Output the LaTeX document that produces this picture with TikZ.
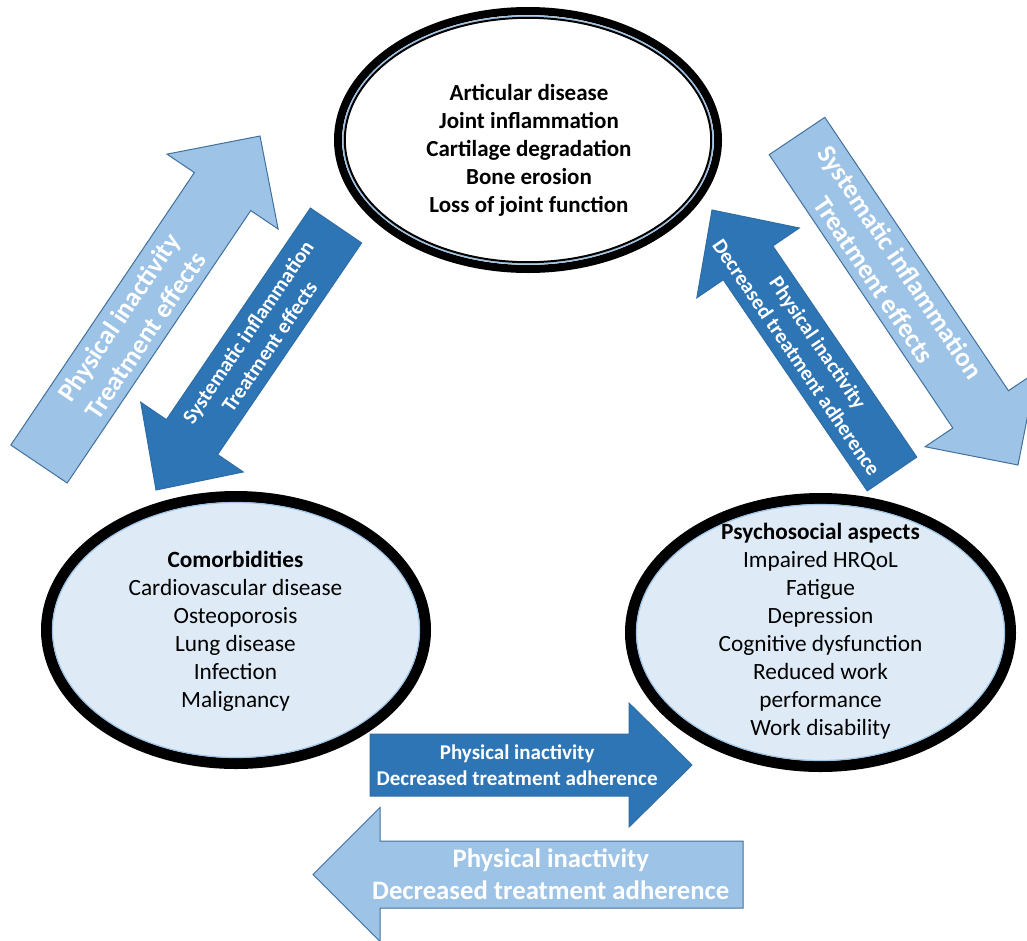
\documentclass[tikz,border=0pt]{standalone}
\usepackage{fontspec}
\setmainfont{Carlito}
\usetikzlibrary{calc,shapes.geometric}

\definecolor{lightarrow}{HTML}{9DC3E6}
\definecolor{lightedge}{HTML}{41719C}
\definecolor{darkarrow}{HTML}{2E75B6}
\definecolor{darkedge}{HTML}{2E6DA4}
\definecolor{ellfill}{HTML}{DEEBF7}
\definecolor{ringblue}{HTML}{9DC3E6}

% block arrow: #1 style, #2 tail coordinate, #3 tip coordinate,
% #4 shaft half width, #5 head half width, #6 head length
\newcommand\blockarrow[6]{%
  \coordinate (#2mid) at ($(#3)!#6!(#2)$);
  \draw[#1] ($(#2)!#4!90:(#3)$) -- ($(#2mid)!#4!90:(#3)$)
    -- ($(#2mid)!#5!90:(#3)$) -- (#3)
    -- ($(#2mid)!#5!-90:(#3)$) -- ($(#2mid)!#4!-90:(#3)$)
    -- ($(#2)!#4!-90:(#3)$) -- cycle;
}

\tikzset{
  lightshape/.style={fill=lightarrow, draw=lightedge, line width=1pt, line join=miter},
  darkshape/.style={fill=darkarrow, draw=darkedge, line width=1pt, line join=miter},
  lighttext/.style={text=white, align=center, inner sep=0pt,
    font=\fontsize{26.7}{32}\selectfont\bfseries},
  darktext/.style={text=white, align=center, inner sep=0pt,
    font=\fontsize{21}{26}\selectfont\bfseries},
  ringnode/.style={ellipse, draw=black, inner sep=0pt},
  elltext/.style={align=center, inner sep=0pt, text=black,
    font=\fontsize{23.3}{28}\selectfont},
}

\begin{document}
\begin{tikzpicture}[x=1pt, y=-1pt]
\useasboundingbox (0,0) rectangle (1027,940);
\clip (0,0) rectangle (1027,940);

% ---- top ellipse: articular disease (double ring)
\node[ringnode, line width=8pt, fill=white, minimum width=380pt, minimum height=258pt]
  (art) at (528,140) {};
\draw[ringblue, line width=1.5pt] (art.center) ellipse [x radius=185, y radius=124];
\draw[black, line width=2pt] (art.center) ellipse [x radius=183.2, y radius=122.2];
\node[elltext, font=\fontsize{23}{28}\selectfont\bfseries] (arttext) at (529,150)
  {Articular disease\\Joint inflammation\\Cartilage degradation\\Bone erosion\\Loss of joint function};

% ---- left ellipse: comorbidities
\node[ringnode, line width=11pt, fill=ellfill, minimum width=379pt, minimum height=267pt]
  (como) at (236,630) {};
\draw[ringblue, line width=1.2pt] (como.center) ellipse [x radius=183.5, y radius=127.5];
\node[elltext] (comotext) at (235.5,631)
  {\textbf{Comorbidities}\\Cardiovascular disease\\Osteoporosis\\Lung disease\\Infection\\Malignancy};

% ---- right ellipse: psychosocial aspects
\node[ringnode, line width=11pt, fill=ellfill, minimum width=380pt, minimum height=268pt]
  (psy) at (820.5,632.5) {};
\draw[ringblue, line width=1.2pt] (psy.center) ellipse [x radius=184, y radius=128];
\node[elltext] (psytext) at (820.5,631)
  {\textbf{Psychosocial aspects}\\Impaired HRQoL\\Fatigue\\Depression\\Cognitive dysfunction\\Reduced work\\performance\\Work disability};

% ---- arrow end points
\coordinate (aT) at (39,464);    \coordinate (aP) at (260,136);
\coordinate (bT) at (336,225.5); \coordinate (bP) at (156,490);
\coordinate (cT) at (797,136);   \coordinate (cP) at (1018,465);
\coordinate (dT) at (892,474);   \coordinate (dP) at (712,210);
\coordinate (eT) at (370,765);   \coordinate (eP) at (692,765);
\coordinate (fT) at (743,874.5); \coordinate (fP) at (313,874.5);

% ---- block arrows
\blockarrow{lightshape}{aT}{aP}{34pt}{67pt}{67pt}
\blockarrow{darkshape}{bT}{bP}{31pt}{62pt}{64pt}
\blockarrow{lightshape}{cT}{cP}{33.5pt}{67pt}{67pt}
\blockarrow{darkshape}{dT}{dP}{30pt}{62pt}{64pt}
\blockarrow{darkshape}{eT}{eP}{31pt}{62pt}{63pt}
\blockarrow{lightshape}{fT}{fP}{33.5pt}{67pt}{67pt}

% ---- arrow labels
\path (aT) -- (aP) node[lighttext, sloped, pos=0.42] (atext) {Physical inactivity\\Treatment effects};
\path (bT) -- (bP) node[darktext, sloped, pos=0.43] (btext) {Systematic inflammation\\Treatment effects};
\path (cT) -- (cP) node[lighttext, sloped, pos=0.41] (ctext) {Systematic inflammation\\Treatment effects};
\path (dT) -- (dP) node[darktext, sloped, pos=0.47] (dtext) {Physical inactivity\\Decreased treatment adherence};
\path (eT) -- (eP) node[darktext, sloped, pos=0.457] (etext) {Physical inactivity\\Decreased treatment adherence};
\path (fT) -- (fP) node[lighttext, sloped, pos=0.447] (ftext) {Physical inactivity\\Decreased treatment adherence};
\end{tikzpicture}
\end{document}
